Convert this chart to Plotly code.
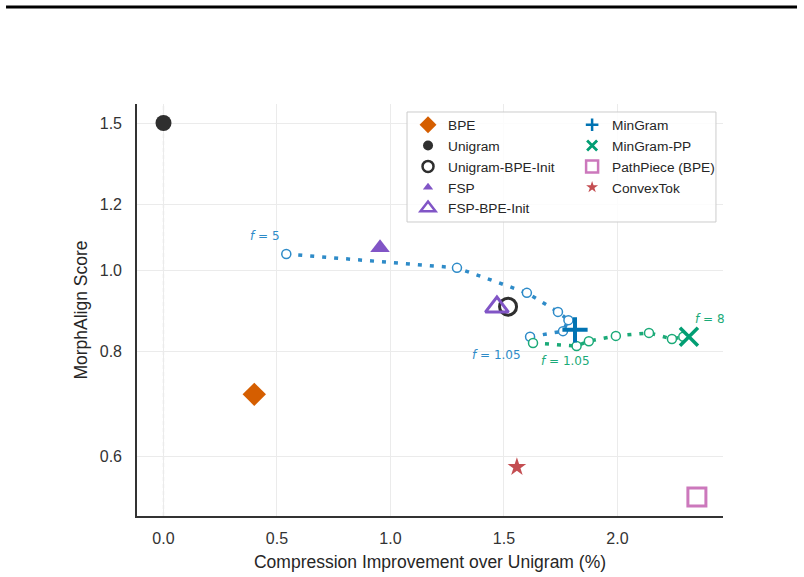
import math
import plotly.graph_objects as go

# ---- data ----
bpe = (0.40, 0.711)
unigram = (0.0, 1.50)
unigram_bpe_init = (1.518, 0.905)
fsp = (0.954, 1.064)
fsp_bpe_init = (1.469, 0.904)
mingram = (1.813, 0.849)
mingram_pp = (2.315, 0.833)
pathpiece = (2.350, 0.536)
convextok = (1.557, 0.582)

sweep_mg_x = [0.541, 1.293, 1.601, 1.738, 1.784, 1.760, 1.615]
sweep_mg_y = [1.046, 1.007, 0.940, 0.892, 0.872, 0.846, 0.833]

sweep_pp_x = [1.628, 1.820, 1.874, 1.993, 2.139, 2.240, 2.290]
sweep_pp_y = [0.819, 0.812, 0.823, 0.835, 0.842, 0.828, 0.833]

x_ticks = [0.0, 0.5, 1.0, 1.5, 2.0]
x_ticklabels = ["0.0", "0.5", "1.0", "1.5", "2.0"]
y_ticks = [0.6, 0.8, 1.0, 1.2, 1.5]
y_ticklabels = ["0.6", "0.8", "1.0", "1.2", "1.5"]

C_BPE = "#D55E00"
C_UNI = "#2f2f2f"
C_FSP = "#8155C6"
C_MG = "#0173B2"
C_PP = "#029E73"
C_PATH = "#CC78BC"
C_CVX = "#C44E52"
C_SW_MG = "#2E8BC8"
C_SW_PP = "#1BAA78"

fig = go.Figure()

# sweep curves
fig.add_trace(go.Scatter(
    x=sweep_mg_x, y=sweep_mg_y, mode="lines+markers", showlegend=False,
    line=dict(color=C_SW_MG, width=3.5, dash="4px,8px"),
    marker=dict(symbol="circle", size=9, color="white", line=dict(color=C_SW_MG, width=1.5)),
    hoverinfo="skip"))
fig.add_trace(go.Scatter(
    x=sweep_pp_x, y=sweep_pp_y, mode="lines+markers", showlegend=False,
    line=dict(color=C_SW_PP, width=3.5, dash="4px,8px"),
    marker=dict(symbol="circle", size=9, color="white", line=dict(color=C_SW_PP, width=1.5)),
    hoverinfo="skip"))

# main points: (name, point, symbol, size, color, linewidth, open, legend size, legend lw, legend group)
points = [
    ("BPE", bpe, "diamond", 18, C_BPE, 0, False, 13, 0, "legend"),
    ("Unigram", unigram, "circle", 16, C_UNI, 0, False, 10, 0, "legend"),
    ("Unigram-BPE-Init", unigram_bpe_init, "circle-open", 17, C_UNI, 3, True, 11, 2.5, "legend"),
    ("FSP", fsp, "triangle-up", 17, C_FSP, 0, False, 9, 0, "legend"),
    ("FSP-BPE-Init", fsp_bpe_init, "triangle-up-open", 20, C_FSP, 3, True, 13, 2.5, "legend"),
    ("MinGram", mingram, "cross-thin", 18, C_MG, 4, True, 9, 2.5, "legend2"),
    ("MinGram-PP", mingram_pp, "x-thin", 18, C_PP, 3.5, True, 10, 2.8, "legend2"),
    ("PathPiece (BPE)", pathpiece, "square-open", 18, C_PATH, 3, True, 12, 2.5, "legend2"),
    ("ConvexTok", convextok, "star", 14, C_CVX, 0, False, 9, 0, "legend2"),
]

for name, pt, sym, size, col, lw, is_open, lsize, llw, lg in points:
    if is_open:
        mk = dict(symbol=sym, size=size, color=col, line=dict(color=col, width=lw))
        lmk = dict(symbol=sym, size=lsize, color=col, line=dict(color=col, width=llw))
    else:
        mk = dict(symbol=sym, size=size, color=col, line=dict(width=0))
        lmk = dict(symbol=sym, size=lsize, color=col, line=dict(width=0))
    fig.add_trace(go.Scatter(x=[pt[0]], y=[pt[1]], mode="markers", marker=mk,
                             showlegend=False, name=name))
    fig.add_trace(go.Scatter(x=[None], y=[None], mode="markers", marker=lmk,
                             showlegend=True, name=name, legend=lg))

# annotations (log axis -> y given as log10)
ann = [
    ("<i>f</i> = 5", 0.447, 1.099, C_SW_MG),
    ("<i>f</i> = 1.05", 1.469, 0.792, C_SW_MG),
    ("<i>f</i> = 1.05", 1.773, 0.779, C_SW_PP),
    ("<i>f</i> = 8", 2.407, 0.875, C_SW_PP),
]
for txt, ax_, ay_, col in ann:
    fig.add_annotation(x=ax_, y=math.log10(ay_), text=txt, showarrow=False,
                       font=dict(family="DejaVu Sans", size=12, color=col),
                       xanchor="center", yanchor="middle")

# vertical dashed line at x=0
fig.add_shape(type="line", xref="x", yref="paper", x0=0, x1=0, y0=0, y1=1,
              line=dict(color="#9a9a9a", width=1.1, dash="4px,3px"), layer="between")

# legend box
fig.add_shape(type="rect", xref="paper", yref="paper",
              x0=0.4608, x1=0.988, y0=0.7136, y1=0.9806,
              line=dict(color="#cccccc", width=1), fillcolor="rgba(255,255,255,0.85)",
              layer="above")

# top black rule
fig.add_shape(type="line", xref="paper", yref="paper",
              x0=-0.2235, x1=1.1263, y0=1.2354, y1=1.2354,
              line=dict(color="black", width=3))

legend_font = dict(family="Liberation Sans, Arial", size=13.7, color="#262626")
fig.update_layout(
    width=804, height=577,
    margin=dict(l=137, r=81, t=104, b=61),
    paper_bgcolor="white", plot_bgcolor="white",
    font=dict(family="Liberation Sans, Arial", color="#262626"),
    legend=dict(x=0.4625, y=0.987, xanchor="left", yanchor="top",
                bgcolor="rgba(0,0,0,0)", font=legend_font, itemsizing="trace",
                tracegroupgap=0),
    legend2=dict(x=0.7425, y=0.987, xanchor="left", yanchor="top",
                 bgcolor="rgba(0,0,0,0)", font=legend_font, itemsizing="trace",
                 tracegroupgap=0),
    xaxis=dict(range=[-0.1167, 2.465], tickvals=x_ticks, ticktext=x_ticklabels,
               automargin=False,
               showgrid=True, gridcolor="#ebebeb", gridwidth=1, zeroline=False,
               showline=True, linecolor="#333333", linewidth=1.6,
               ticks="outside", ticklen=7, tickcolor="rgba(0,0,0,0)",
               tickfont=dict(size=16, color="#333333"),
               title=dict(text="Compression Improvement over Unigram (%)",
                          font=dict(size=17.5, color="#262626"), standoff=10)),
    yaxis=dict(type="log", range=[-0.2935, 0.1988], tickvals=y_ticks, ticktext=y_ticklabels,
               automargin=False,
               showgrid=True, gridcolor="#ebebeb", gridwidth=1, zeroline=False,
               showline=True, linecolor="#333333", linewidth=1.6,
               ticks="outside", ticklen=10, tickcolor="rgba(0,0,0,0)",
               tickfont=dict(size=16, color="#333333"),
               title=dict(text="MorphAlign Score", font=dict(size=17.5, color="#262626"),
                          standoff=8)),
)

fig.write_html("out.html")
